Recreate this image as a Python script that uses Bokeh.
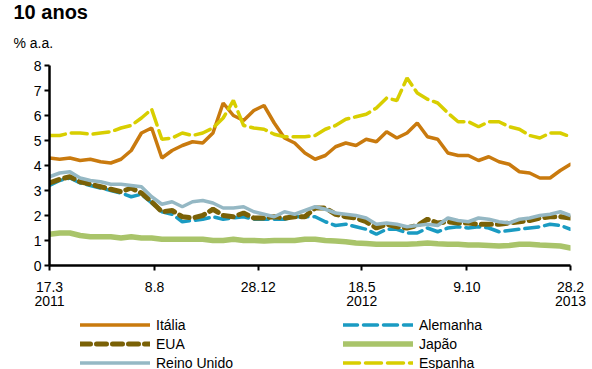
import pandas as pd
from bokeh.plotting import figure
from bokeh.layouts import column
from bokeh.models import Range1d, FixedTicker, Legend, LegendItem, Title
from bokeh.embed import file_html
from bokeh.resources import INLINE

# ---- data (10-year government bond yields, % a.a.) ----
dates = pd.date_range("2011-03-17", periods=52, freq="14D")

italia = [4.30, 4.25, 4.30, 4.20, 4.25, 4.15, 4.10, 4.25, 4.60, 5.30,
          5.50, 4.30, 4.60, 4.80, 4.95, 4.90, 5.30, 6.50, 6.00, 5.80,
          6.20, 6.40, 5.70, 5.10, 4.90, 4.50, 4.25, 4.40, 4.75, 4.90,
          4.80, 5.05, 4.95, 5.35, 5.10, 5.30, 5.70, 5.15, 5.05, 4.50,
          4.40, 4.40, 4.20, 4.35, 4.15, 4.05, 3.75, 3.70, 3.50, 3.50,
          3.80, 4.05]
espanha = [5.20, 5.20, 5.30, 5.30, 5.25, 5.30, 5.35, 5.50, 5.60, 5.90,
           6.25, 5.05, 5.10, 5.30, 5.20, 5.30, 5.50, 5.90, 6.60, 5.60,
           5.50, 5.45, 5.25, 5.15, 5.15, 5.15, 5.20, 5.45, 5.60, 5.85,
           5.95, 6.05, 6.30, 6.70, 6.60, 7.50, 6.90, 6.65, 6.50, 6.10,
           5.75, 5.75, 5.55, 5.75, 5.75, 5.55, 5.45, 5.20, 5.10, 5.30,
           5.30, 5.15]
reino_unido = [3.55, 3.70, 3.75, 3.50, 3.40, 3.35, 3.25, 3.25, 3.20, 3.15,
               2.75, 2.45, 2.55, 2.35, 2.55, 2.60, 2.50, 2.30, 2.30, 2.35,
               2.15, 2.05, 1.95, 2.15, 2.05, 2.20, 2.35, 2.25, 2.10, 2.05,
               2.00, 1.90, 1.65, 1.70, 1.65, 1.55, 1.60, 1.65, 1.60, 1.90,
               1.80, 1.75, 1.90, 1.85, 1.75, 1.70, 1.85, 1.90, 2.00, 2.05,
               2.15, 2.00]
eua = [3.30, 3.45, 3.55, 3.35, 3.25, 3.15, 3.05, 2.95, 3.10, 2.90,
       2.55, 2.15, 2.20, 1.95, 1.90, 2.00, 2.25, 2.00, 1.95, 2.10,
       1.90, 1.90, 1.95, 1.90, 1.95, 1.95, 2.30, 2.30, 2.05, 1.95,
       1.90, 1.75, 1.50, 1.65, 1.55, 1.50, 1.60, 1.85, 1.70, 1.75,
       1.70, 1.70, 1.65, 1.65, 1.65, 1.70, 1.75, 1.80, 1.90, 1.95,
       1.95, 1.90]
alemanha = [3.20, 3.40, 3.50, 3.30, 3.20, 3.10, 3.00, 2.90, 2.75, 2.85,
            2.50, 2.15, 2.05, 1.75, 1.80, 1.85, 1.95, 1.85, 1.90, 1.95,
            1.85, 1.85, 1.85, 1.85, 1.95, 1.95, 1.95, 1.75, 1.60, 1.65,
            1.55, 1.45, 1.25, 1.45, 1.45, 1.30, 1.30, 1.50, 1.35, 1.50,
            1.55, 1.50, 1.55, 1.50, 1.35, 1.40, 1.45, 1.50, 1.55, 1.65,
            1.60, 1.45]
japao = [1.25, 1.30, 1.30, 1.20, 1.15, 1.15, 1.15, 1.10, 1.15, 1.10,
         1.10, 1.05, 1.05, 1.05, 1.05, 1.05, 1.00, 1.00, 1.05, 1.00,
         1.00, 0.98, 1.00, 1.00, 1.00, 1.05, 1.05, 1.00, 0.98, 0.95,
         0.90, 0.88, 0.85, 0.85, 0.85, 0.85, 0.87, 0.90, 0.87, 0.85,
         0.85, 0.82, 0.82, 0.80, 0.78, 0.80, 0.85, 0.85, 0.82, 0.80,
         0.78, 0.70]

tick_dates = ["2011-03-17", "2011-08-08", "2011-12-28",
              "2012-05-18", "2012-10-09", "2013-02-28"]
tick_labels = ["17.3\n2011", "8.8", "28.12", "18.5\n2012", "9.10", "28.2\n2013"]
y_ticks = [0, 1, 2, 3, 4, 5, 6, 7, 8]

FONT = "Liberation Sans"
W = 592

tick_ms = [int(pd.Timestamp(d).value // 10**6) for d in tick_dates]

# ---- main chart ----
p = figure(width=W, height=311, x_axis_type="datetime",
           output_backend="svg", toolbar_location=None,
           x_range=Range1d(pd.Timestamp(tick_dates[0]), pd.Timestamp(tick_dates[-1])),
           y_range=Range1d(0, 8),
           min_border_left=49, min_border_right=22,
           min_border_top=65, min_border_bottom=45)
p.outline_line_color = None
p.grid.visible = False

p.title.text = "10 anos"
p.title.text_font = FONT
p.title.text_font_size = "20px"
p.title.text_font_style = "bold"
p.title.text_color = "black"
p.title.align = "left"
p.title.offset = -36
p.title.standoff = -8
p.add_layout(Title(text="% a.a.", text_font=FONT, text_font_size="14px",
                   text_font_style="normal", text_color="black",
                   align="left", offset=-36, standoff=29), "above")

for ax in (p.xaxis[0], p.yaxis[0]):
    ax.axis_line_color = "black"
    ax.axis_line_width = 2.5
    ax.major_tick_line_color = "black"
    ax.major_tick_line_width = 2
    ax.major_tick_out = 5
    ax.major_tick_in = 0
    ax.minor_tick_line_color = None
    ax.major_label_text_font = FONT
    ax.major_label_text_font_size = "14px"
    ax.major_label_text_color = "black"

p.xaxis.ticker = FixedTicker(ticks=tick_ms)
p.xaxis.major_label_overrides = dict(zip(tick_ms, tick_labels))
p.xaxis.major_label_standoff = 8
p.xaxis.major_label_text_line_height = 0.9
p.yaxis.ticker = FixedTicker(ticks=y_ticks)
p.yaxis.major_label_standoff = 3

styles = {
    "Japão": dict(line_color="#A9C46A", line_width=5.5, line_cap="round"),
    "Alemanha": dict(line_color="#1A9BC2", line_width=3.5, line_dash="14 6", line_cap="round"),
    "EUA": dict(line_color="#7A6106", line_width=5, line_dash="10 6", line_cap="round"),
    "Reino Unido": dict(line_color="#95B8C4", line_width=3.5, line_cap="round"),
    "Itália": dict(line_color="#C97A0E", line_width=3.5, line_cap="round"),
    "Espanha": dict(line_color="#D8CE00", line_width=3.5, line_dash="16 6", line_cap="round"),
}
series = {"Japão": japao, "Alemanha": alemanha, "EUA": eua,
          "Reino Unido": reino_unido, "Itália": italia, "Espanha": espanha}
for name, vals in series.items():
    p.line(dates, vals, **styles[name])

# ---- legend area (separate strip under the chart) ----
legend_fig = figure(width=W, height=58, output_backend="svg", toolbar_location=None,
                    x_range=Range1d(0, 1), y_range=Range1d(0, 1),
                    x_axis_location=None, y_axis_location=None,
                    min_border_left=49, min_border_right=22,
                    min_border_top=0, min_border_bottom=0)
legend_fig.outline_line_color = None
legend_fig.grid.visible = False
nan = float("nan")
lr = {name: legend_fig.line(x=[nan], y=[nan], **styles[name]) for name in styles}

def make_legend(names, x):
    return Legend(items=[LegendItem(label=n, renderers=[lr[n]]) for n in names],
                  location=(x, -3), orientation="vertical",
                  padding=0, margin=0, spacing=0, glyph_width=70,
                  glyph_height=19, label_height=19, label_standoff=6,
                  label_text_font=FONT, label_text_font_size="14px",
                  label_text_color="black", border_line_color=None,
                  background_fill_alpha=0)

legend_fig.add_layout(make_legend(["Itália", "EUA", "Reino Unido"], 31))
legend_fig.add_layout(make_legend(["Alemanha", "Japão", "Espanha"], 294))

layout = column(p, legend_fig, spacing=0)
open("out.html", "w").write(file_html(layout, INLINE))
